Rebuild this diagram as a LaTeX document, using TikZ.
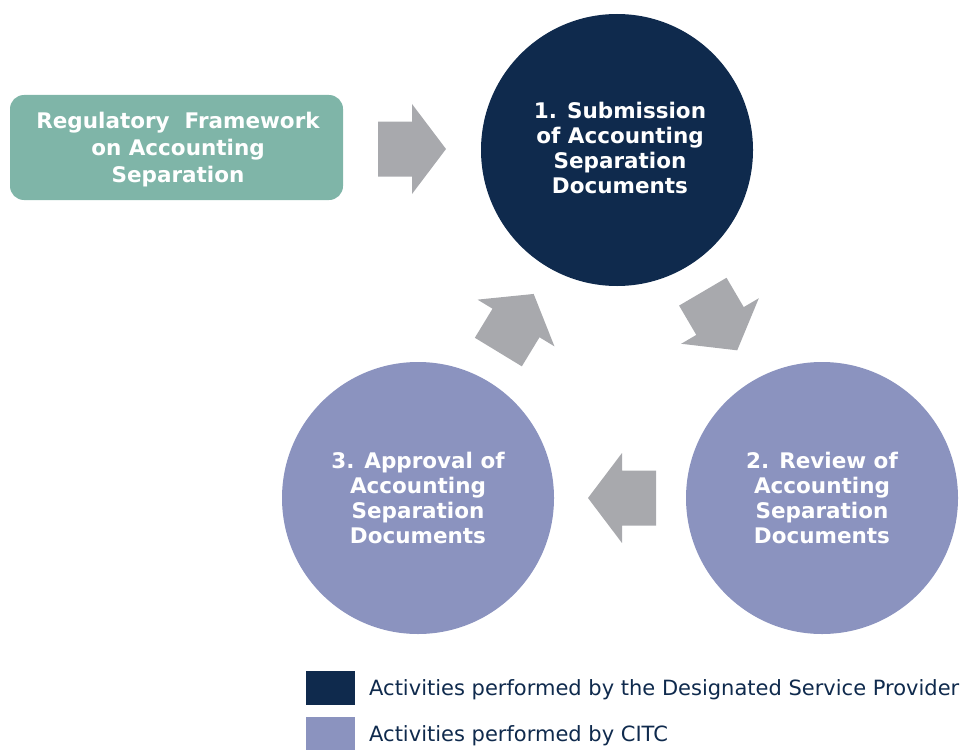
\documentclass[tikz,border=0pt]{standalone}
\usepackage{fontspec}
\setmainfont{DejaVu Sans}
\definecolor{navy}{HTML}{0F2A4D}
\definecolor{lav}{HTML}{8B93BF}
\definecolor{sage}{HTML}{7FB5A8}
\definecolor{arrgray}{HTML}{A8A9AD}
\begin{document}
\begin{tikzpicture}[x=1pt,y=-1pt,
  circ/.style={circle, minimum size=272pt, inner sep=0pt, align=center, text=white, font=\fontsize{21.5}{25}\selectfont\bfseries},
  frame/.style={rounded corners=14pt, fill=sage, minimum width=333pt, minimum height=105pt, align=center, text=white, font=\fontsize{21.5}{27}\selectfont\bfseries},
  blockarrow/.style={fill=arrgray},
  legbox/.style={fill=#1, minimum width=49pt, minimum height=34pt, inner sep=0pt},
  legtext/.style={anchor=west, text=navy, inner sep=2pt, font=\fontsize{21}{24}\selectfont}]
\useasboundingbox (0,0) rectangle (965,749);
\node[frame] (rf) at (176.5,147.5) {};
\node[align=center, text=white, font=\fontsize{21.5}{27}\selectfont\bfseries] (rft) at (178,150) {Regulatory~~Framework\\on Accounting\\Separation};
\node[circ, fill=navy] (c1) at (617,150) {};
\node[align=center, text=white, font=\fontsize{21.5}{25}\selectfont\bfseries] (c1t) at (620,148) {1. Submission\\of Accounting\\Separation\\Documents};
\node[circ, fill=lav] (c2) at (822,498) {2. Review of\\Accounting\\Separation\\Documents};
\node[circ, fill=lav] (c3) at (418,498) {3. Approval of\\Accounting\\Separation\\Documents};
% block arrows: local origin = head base centre
\foreach \cx/\cy/\ang in {412/149/0, 720/321/-59.6, 622/498/180, 516/323/58.7}{
  \begin{scope}[shift={(\cx,\cy)}, rotate=\ang]
    \fill[blockarrow] (-34,-27.5) -- (0,-27.5) -- (0,-45) -- (34,0) -- (0,45) -- (0,27.5) -- (-34,27.5) -- cycle;
  \end{scope}
}
\node[legbox=navy] (l1) at (330.5,688) {};
\node[legtext] (t1) at (367,690) {Activities performed by the Designated Service Provider};
\node[legbox=lav] (l2) at (330.5,734) {};
\node[legtext] (t2) at (367,736) {Activities performed by CITC};
\end{tikzpicture}
\end{document}
